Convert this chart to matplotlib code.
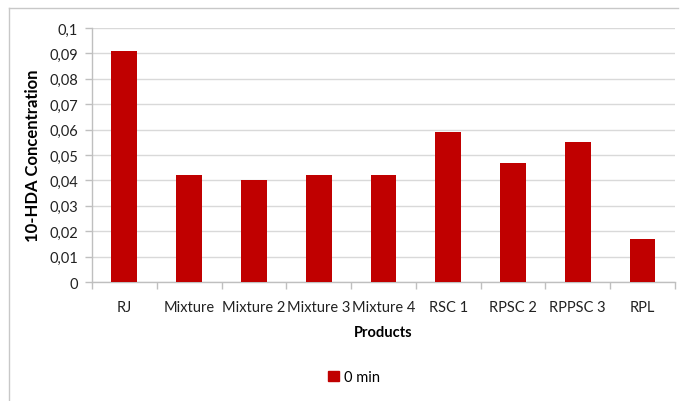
import matplotlib
matplotlib.use("Agg")
import matplotlib.pyplot as plt
from matplotlib.lines import Line2D
from matplotlib.patches import Patch
from matplotlib.ticker import FixedLocator

plt.rcParams['font.family'] = ['Lato', 'DejaVu Sans']

products = ['RJ', 'Mixture', 'Mixture 2', 'Mixture 3', 'Mixture 4',
            'RSC 1', 'RPSC 2', 'RPPSC 3', 'RPL']
hda_0min = [0.091, 0.042, 0.040, 0.042, 0.042, 0.059, 0.047, 0.055, 0.017]
y_ticks = [0, 0.01, 0.02, 0.03, 0.04, 0.05, 0.06, 0.07, 0.08, 0.09, 0.1]
y_labels = ['0', '0,01', '0,02', '0,03', '0,04', '0,05', '0,06', '0,07',
            '0,08', '0,09', '0,1']

bar_color = '#C00000'
grid_color = '#D9D9D9'
axis_color = '#BFBFBF'

fig = plt.figure(figsize=(6.88, 4.02), dpi=100)
ax = fig.add_axes([0.1337, 0.296, 0.981 - 0.1337, 0.928 - 0.296])

x = list(range(len(products)))
ax.bar(x, hda_0min, width=0.4, color=bar_color, zorder=3)

ax.set_xlim(-0.5, len(products) - 0.5)
ax.set_ylim(0, 0.1)
ax.set_yticks(y_ticks)
ax.set_yticklabels(y_labels)
ax.set_xticks(x)
ax.set_xticklabels(products)
ax.xaxis.set_minor_locator(FixedLocator([i - 0.5 for i in range(len(products) + 1)]))

ax.grid(axis='y', color=grid_color, linewidth=1, zorder=0)
for side in ('top', 'right'):
    ax.spines[side].set_visible(False)
for side in ('left', 'bottom'):
    ax.spines[side].set_color(axis_color)
    ax.spines[side].set_linewidth(1)

ax.tick_params(axis='y', colors=axis_color, labelcolor='#222222',
               labelsize=10.5, length=5, width=1, pad=5)
ax.tick_params(axis='x', which='major', length=0, labelcolor='#222222',
               labelsize=10.5, pad=13)
ax.tick_params(axis='x', which='minor', length=5, width=1, colors=axis_color)

ax.set_ylabel('10-HDA Concentration', fontsize=12, fontweight='bold',
              labelpad=6)
ax.set_xlabel('Products', fontsize=10.5, fontweight='bold', labelpad=8)

fig.legend(handles=[Patch(color=bar_color, label='0 min')],
           loc='center', bbox_to_anchor=(0.515, 0.06), frameon=False,
           fontsize=10.5, handlelength=0.7, handleheight=0.7,
           handletextpad=0.4)

# thin frame on the left and top edges
fig.add_artist(Line2D([9 / 688, 9 / 688], [0, 1 - 9 / 402],
                      transform=fig.transFigure, color='#C8C8C8', lw=1))
fig.add_artist(Line2D([9 / 688, 678 / 688], [1 - 9 / 402, 1 - 9 / 402],
                      transform=fig.transFigure, color='#C8C8C8', lw=1))

fig.savefig('out.png', dpi=100)
